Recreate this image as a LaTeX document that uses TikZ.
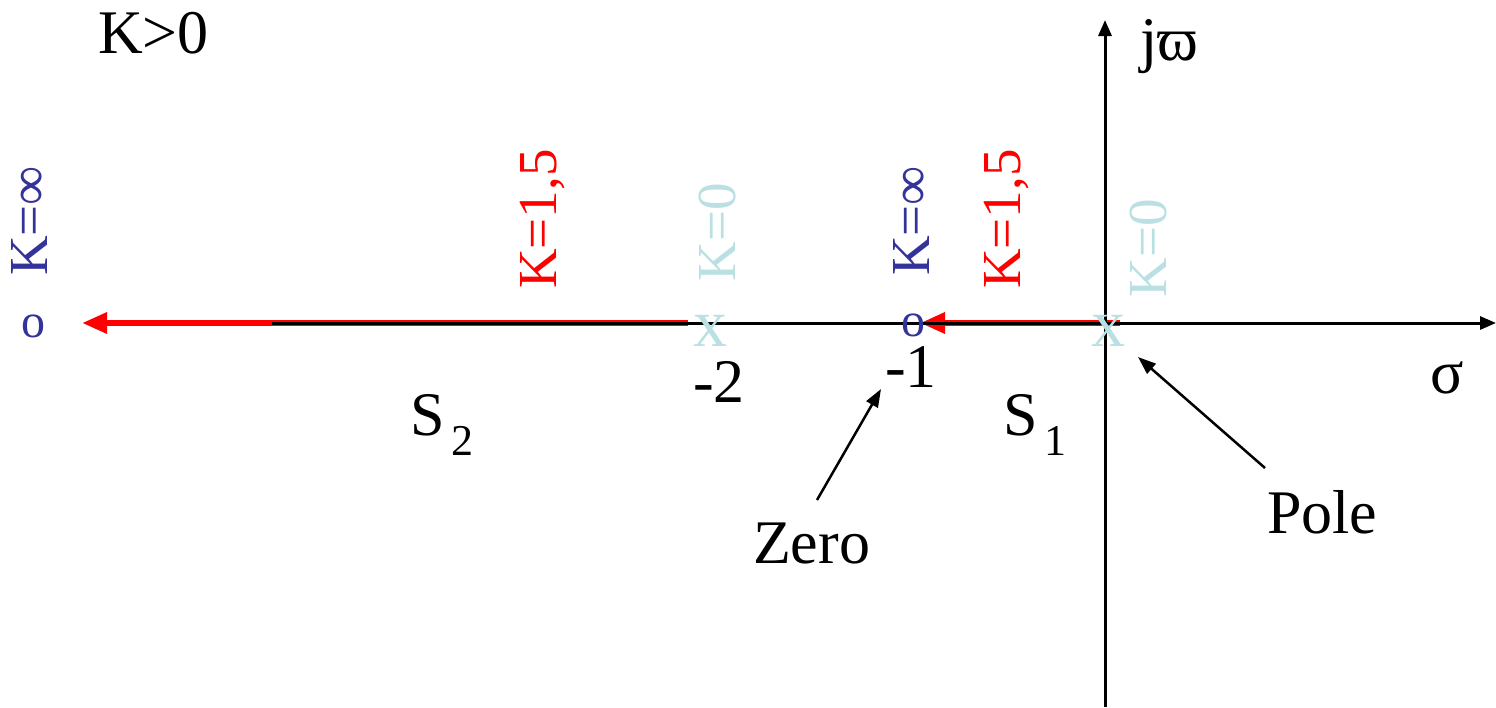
\documentclass[tikz,border=0pt]{standalone}
\usepackage{fontspec}
\setmainfont{LiberationSerif}[Extension=.ttf, UprightFont=*-Regular, BoldFont=*-Bold, ItalicFont=*-Italic]
\usetikzlibrary{arrows.meta}
\definecolor{zblue}{RGB}{51,51,153}
\definecolor{pblue}{RGB}{187,224,227}
\definecolor{lred}{RGB}{255,0,0}
\tikzset{
  lbl/.style={inner sep=0pt, outer sep=0pt, anchor=base west, font=\fontsize{62}{70}\selectfont},
  rlbl/.style={inner sep=0pt, outer sep=0pt, rotate=90, anchor=center, font=\fontsize{55}{60}\selectfont},
  zmark/.style={inner sep=0pt, outer sep=0pt, text=zblue, font=\fontsize{48}{50}\selectfont},
  pmark/.style={inner sep=0pt, outer sep=0pt, text=pblue, font=\fontsize{68}{70}\selectfont},
  locus/.style={draw=lred, line width=6pt, -{Triangle[length=25pt,width=20pt]}},
  axis/.style={draw=black, line width=3pt, -{Triangle[length=16pt,width=13pt]}},
  pointer/.style={draw=black, line width=2.5pt, -{Triangle[length=18pt,width=13pt]}}
}
\begin{document}
\begin{tikzpicture}[x=1pt,y=-1pt]
\useasboundingbox (0,0) rectangle (1496,707);
% coordinates
\coordinate (l1s) at (688,323);
\coordinate (l1e) at (82,323);
\coordinate (l2s) at (1120,323);
\coordinate (l2e) at (920,323);
\coordinate (hx0) at (272,323);
\coordinate (hx1) at (1496,323);
\coordinate (vy0) at (1105,707);
\coordinate (vy1) at (1105,20);
% root locus branches
\draw[locus] (l1s) -- (l1e);
\draw[locus] (l2s) -- (l2e);
% axes
\draw[axis] (hx0) -- (hx1);
\draw[axis] (vy0) -- (vy1);
% markers
\node[zmark] (z2) at (33,326) {o};
\node[zmark] (z1) at (913,325) {o};
\node[pmark] (p2) at (710,331) {x};
\node[pmark] (p1) at (1108,331) {x};
% rotated labels
\node[rlbl, text=zblue] (kinf2) at (29,221) {K=∞};
\node[rlbl, text=lred] (k152) at (543,219) {K=1,5};
\node[rlbl, text=pblue] (k02) at (717,232) {K=0};
\node[rlbl, text=zblue] (kinf1) at (911,221) {K=∞};
\node[rlbl, text=lred] (k151) at (1007,219) {K=1,5};
\node[rlbl, text=pblue] (k01) at (1148,248) {K=0};
% text labels
\node[lbl] (kpos) at (98,53) {K>0};
\node[lbl] (m2) at (693,402) {-2};
\node[lbl] (m1) at (885,387) {-1};
\node[lbl] (zero) at (753,563) {Zero};
\node[lbl] (pole) at (1267,533) {Pole};
\node[lbl] (sigma) at (1430,393) {σ};
\node[lbl] (jw) at (1140,60) {jϖ};
\node[lbl] (s2) at (410,435) {S\raisebox{-20pt}{\fontsize{44}{48}\selectfont\,2}};
\node[lbl] (s1) at (1003,435) {S\raisebox{-20pt}{\fontsize{44}{48}\selectfont\,1}};
% pointers
\coordinate (zt) at (817,500);
\coordinate (zh) at (881,389);
\coordinate (pt) at (1265,468);
\coordinate (ph) at (1138,357);
\draw[pointer] (zt) -- (zh);
\draw[pointer] (pt) -- (ph);
\end{tikzpicture}
\end{document}
